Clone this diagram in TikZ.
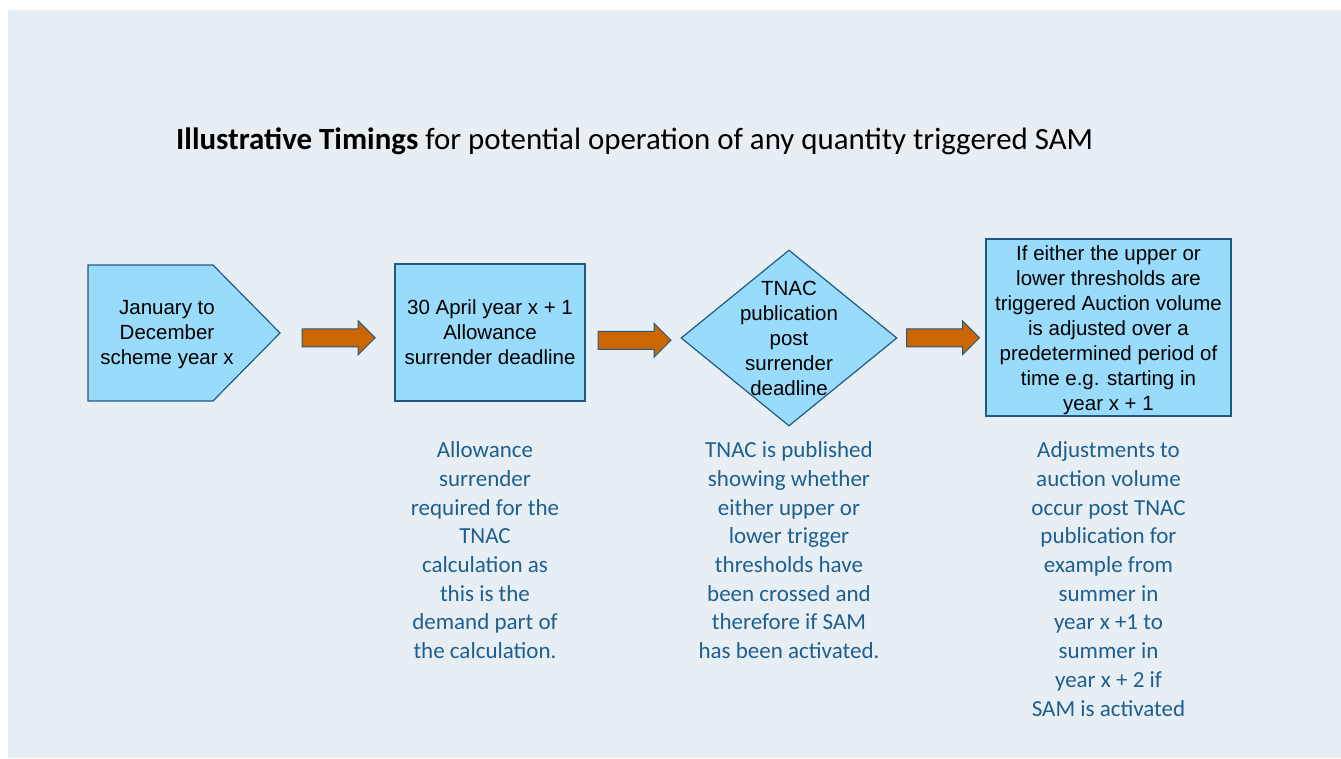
\documentclass[tikz,border=0pt]{standalone}
\usepackage{fontspec}
\setmainfont{Carlito}
\newfontfamily\arialfont{Liberation Sans}
\usetikzlibrary{positioning,calc,shapes.geometric,shapes.arrows}
\definecolor{pagebg}{HTML}{E8EFF4}
\definecolor{shapeblue}{HTML}{99DBFB}
\definecolor{edgeblue}{HTML}{1F5A85}
\definecolor{arroworange}{HTML}{CC6600}
\definecolor{notetext}{HTML}{1F5F8F}

\begin{document}
\begin{tikzpicture}[
    x=1pt, y=-1pt,
    boxtext/.style={font=\arialfont\fontsize{20.5}{25}\selectfont, align=center, inner sep=0pt},
    box/.style={rectangle, draw=edgeblue, fill=shapeblue, line width=1.2pt, boxtext},
    decision/.style={diamond, draw=edgeblue, fill=shapeblue, line width=1.2pt, inner sep=0pt, minimum width=216pt, minimum height=176pt},
    flowarrow/.style={single arrow, draw=edgeblue, fill=arroworange, line width=1pt, inner xsep=0pt, inner ysep=8.5pt, minimum height=73pt, single arrow head extend=8pt, xshift=-3pt, yshift=-5pt},
    note/.style={font=\fontsize{23}{28.7}\selectfont, text=notetext, align=center, inner sep=0pt}
]
    % Background
    \useasboundingbox (0,0) rectangle (1341,758);
    \fill[white] (0,0) rectangle (1341,758);
    \fill[pagebg] (8,10) rectangle (1341,758);

    % Title
    \node[anchor=west, font=\fontsize{30.9}{36}\selectfont, inner sep=0pt] (title) at (176,141) {\textbf{Illustrative Timings} for potential operation of any quantity triggered SAM};

    % Nodes
    \draw[draw=edgeblue, fill=shapeblue, line width=1.2pt] (88,265) -- (213,265) -- (280,333) -- (213,401) -- (88,401) -- cycle;
    \coordinate (jantip) at (280,333);
    \node[boxtext] (jan) at (167,335) {January to\\December\\scheme year x};
    \node[box, minimum width=190pt, minimum height=137pt] (apr) at (490,332.5) {30 April year x + 1\\Allowance\\surrender deadline};
    \node[decision] (pub) at (789,338) {};
    \node[boxtext] (pubtext) at (pub.center) {TNAC\\publication\\post\\surrender\\deadline};
    \node[box, minimum width=245pt, minimum height=177pt] (adj) at (1108.5,327.5) {};
    \node[boxtext, yshift=-3pt] (adjtext) at (adj.center) {If either the upper or\\lower thresholds are\\triggered Auction volume\\is adjusted over a\\predetermined period of\\time e.g. starting in\\year x + 1};

    % Arrows
    \node[flowarrow] (arrow1) at ($(jantip)!0.5!(apr.west)$) {};
    \node[flowarrow] (arrow2) at ($(apr.east)!0.5!(pub.west)$) {};
    \node[flowarrow] (arrow3) at ($(pub.east)!0.5!(adj.west)$) {};

    % Notes
    \node[note, below=40pt of apr, xshift=-5pt] (aprnote) {Allowance\\surrender\\required for the\\TNAC\\calculation as\\this is the\\demand part of\\the calculation.};
    \node[note, anchor=north] (pubnote) at (pub.south |- aprnote.north) {TNAC is published\\showing whether\\either upper or\\lower trigger\\thresholds have\\been crossed and\\therefore if SAM\\has been activated.};
    \node[note, anchor=north] (adjnote) at (adj.south |- aprnote.north) {Adjustments to\\auction volume\\occur post TNAC\\publication for\\example from\\summer in\\year x +1 to\\summer in\\year x + 2 if\\SAM is activated};
\end{tikzpicture}
\end{document}
